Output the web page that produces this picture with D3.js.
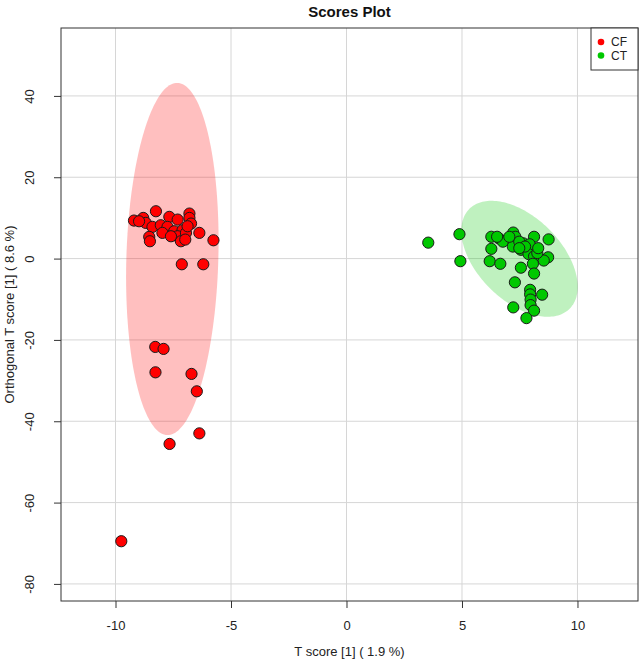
<!DOCTYPE html>
<html><head><meta charset="utf-8">
<script src="https://cdn.jsdelivr.net/npm/d3@7"></script>
<style>
html,body{margin:0;padding:0;background:#fff;}
svg{display:block;font-family:"Liberation Sans",Arial,sans-serif;}
</style></head>
<body>
<svg id="chart" width="641" height="662"></svg>
<script>
// ---- data ----
const groups = ["CF", "CT"];
const groupColors = ["#FF0000", "#00C800"];
const xTicks = [-10, -5, 0, 5, 10];
const yTicks = [40, 20, 0, -20, -40, -60, -80];

const cfX = [-9.20, -8.80, -8.25, -8.69, -8.40, -8.54, -8.51, -8.04, -7.67, -7.31, -6.80, -6.80, -6.73,
  -7.75, -7.46, -7.10, -7.31, -6.95, -6.37, -5.76, -7.17, -6.98, -7.97, -7.60, -6.88, -8.98,
  -7.13, -6.20, -8.28, -7.92, -8.27, -6.71, -6.48, -6.37, -7.66, -9.75];
const cfY = [9.35, 10.0, 11.64, 8.78, 7.8, 5.34, 4.26, 8.2, 10.26, 9.59, 11.07, 10.0, 8.61,
  7.8, 6.72, 6.96, 5.49, 6.32, 6.32, 4.5, 4.26, 4.67, 6.32, 5.49, 7.95, 9.18,
  -1.40, -1.40, -21.72, -22.21, -27.97, -28.36, -32.64, -42.98, -45.58, -69.5];

const ctX = [3.54, 4.89, 4.93, 6.27, 6.60, 6.77, 6.27, 6.20, 6.66, 7.22, 7.31, 7.20, 7.55, 7.65,
  8.12, 7.93, 7.88, 8.12, 8.75, 8.73, 8.54, 8.07, 7.55, 8.12, 7.29, 7.95, 7.95, 8.47, 7.97,
  7.97, 8.12, 7.22, 7.79, 7.48, 7.73, 8.26, 7.05, 6.52, 8.30, 7.48];
const ctY = [3.92, 6.0, -0.64, 5.36, 4.96, 4.16, 2.4, -0.64, -1.28, 6.4, 5.36, 2.96, 2.16, 3.76,
  5.36, 3.52, 1.12, 0.56, 4.72, 0.32, -0.48, -1.28, -2.24, -3.68, -5.84, -7.68, -8.8, -8.88, -10.08,
  -11.44, -12.8, -12.0, -14.64, 4.16, 2.96, 1.36, 5.36, 5.36, 2.56, 2.56];

// confidence ellipses: centre and semi-axis vectors (data units)
const ellCX = [-7.54, 7.49];
const ellCY = [-0.1, -0.05];
const ellMajorX = [0.22, 2.17];
const ellMajorY = [43.3, -12.28];
const ellMinorX = [1.99, -1.28];
const ellMinorY = [-0.32, -7.26];

const titleText = "Scores Plot";
const xLabel = "T score [1] ( 1.9 %)";
const yLabel = "Orthogonal T score [1] ( 8.6 %)";

// ---- layout ----
const svg = d3.select("#chart");
const L = 61, R = 638, T = 28, B = 601;
const x = d3.scaleLinear().domain([-12.36, 12.62]).range([L, R]);
const y = d3.scaleLinear().domain([56.7, -84.2]).range([T, B]);
const fmt = d => String(d);

// grid
const grid = svg.append("g");
grid.selectAll("line.vx").data(xTicks).join("line")
  .attr("x1", d => x(d)).attr("x2", d => x(d)).attr("y1", T).attr("y2", B)
  .attr("stroke", "#D6D6D6").attr("stroke-width", 1);
grid.selectAll("line.hy").data(yTicks).join("line")
  .attr("y1", d => y(d)).attr("y2", d => y(d)).attr("x1", L).attr("x2", R)
  .attr("stroke", "#D6D6D6").attr("stroke-width", 1);

// ellipses
const line = d3.line().x(d => x(d[0])).y(d => y(d[1]));
groups.forEach((g, i) => {
  const pts = d3.range(0, 181).map(k => {
    const t = k / 180 * 2 * Math.PI;
    return [ellCX[i] + Math.cos(t) * ellMajorX[i] + Math.sin(t) * ellMinorX[i],
            ellCY[i] + Math.cos(t) * ellMajorY[i] + Math.sin(t) * ellMinorY[i]];
  });
  svg.append("path").attr("d", line(pts) + "Z")
    .attr("fill", groupColors[i]).attr("fill-opacity", 0.25).attr("stroke", "none");
});

// points
const series = [
  {xs: cfX, ys: cfY, c: groupColors[0]},
  {xs: ctX, ys: ctY, c: groupColors[1]}
];
series.forEach(s => {
  svg.append("g").selectAll("circle").data(s.xs.map((v, j) => [v, s.ys[j]])).join("circle")
    .attr("cx", d => x(d[0])).attr("cy", d => y(d[1])).attr("r", 5.6)
    .attr("fill", s.c).attr("stroke", "#1a1a1a").attr("stroke-width", 1);
});

// axes
const xAxis = d3.axisBottom(x).tickValues(xTicks).tickSize(7).tickPadding(13).tickFormat(fmt);
const gx = svg.append("g").attr("transform", `translate(0,${B})`).call(xAxis);
gx.select(".domain").remove();
gx.selectAll("text").attr("font-size", 13).attr("fill", "#222").attr("font-family", "Liberation Sans, Arial, sans-serif");
gx.selectAll("line").attr("stroke", "#333");

const yAxis = d3.axisLeft(y).tickValues(yTicks).tickSize(7).tickFormat(fmt);
const gy = svg.append("g").attr("transform", `translate(${L},0)`).call(yAxis);
gy.select(".domain").remove();
gy.selectAll("line").attr("stroke", "#333");
gy.selectAll("text")
  .attr("font-size", 13).attr("fill", "#222").attr("font-family", "Liberation Sans, Arial, sans-serif")
  .attr("x", null).attr("dy", null)
  .attr("text-anchor", "middle")
  .attr("transform", "translate(-27,0) rotate(-90)")
  .attr("y", 0);

// box
svg.append("rect").attr("x", L).attr("y", T).attr("width", R - L).attr("height", B - T)
  .attr("fill", "none").attr("stroke", "#333").attr("stroke-width", 1);

// title & labels
svg.append("text").attr("x", (L + R) / 2).attr("y", 17).attr("text-anchor", "middle")
  .attr("font-weight", "bold").attr("font-size", 15).attr("fill", "#111").text(titleText);
svg.append("text").attr("x", (L + R) / 2).attr("y", 656).attr("text-anchor", "middle")
  .attr("font-size", 13).attr("fill", "#222").text(xLabel);
svg.append("text").attr("transform", `translate(14,${(T + B) / 2}) rotate(-90)`).attr("text-anchor", "middle")
  .attr("font-size", 13).attr("fill", "#222").text(yLabel);

// legend
const lg = svg.append("g");
lg.append("rect").attr("x", 591).attr("y", T).attr("width", R - 591).attr("height", 42)
  .attr("fill", "#fff").attr("stroke", "#333").attr("stroke-width", 1);
groups.forEach((g, i) => {
  lg.append("circle").attr("cx", 601).attr("cy", 42 + i * 13.5).attr("r", 3.3).attr("fill", groupColors[i]);
  lg.append("text").attr("x", 611).attr("y", 46 + i * 13.5).attr("font-size", 12).attr("fill", "#222").text(g);
});
</script>
</body></html>
